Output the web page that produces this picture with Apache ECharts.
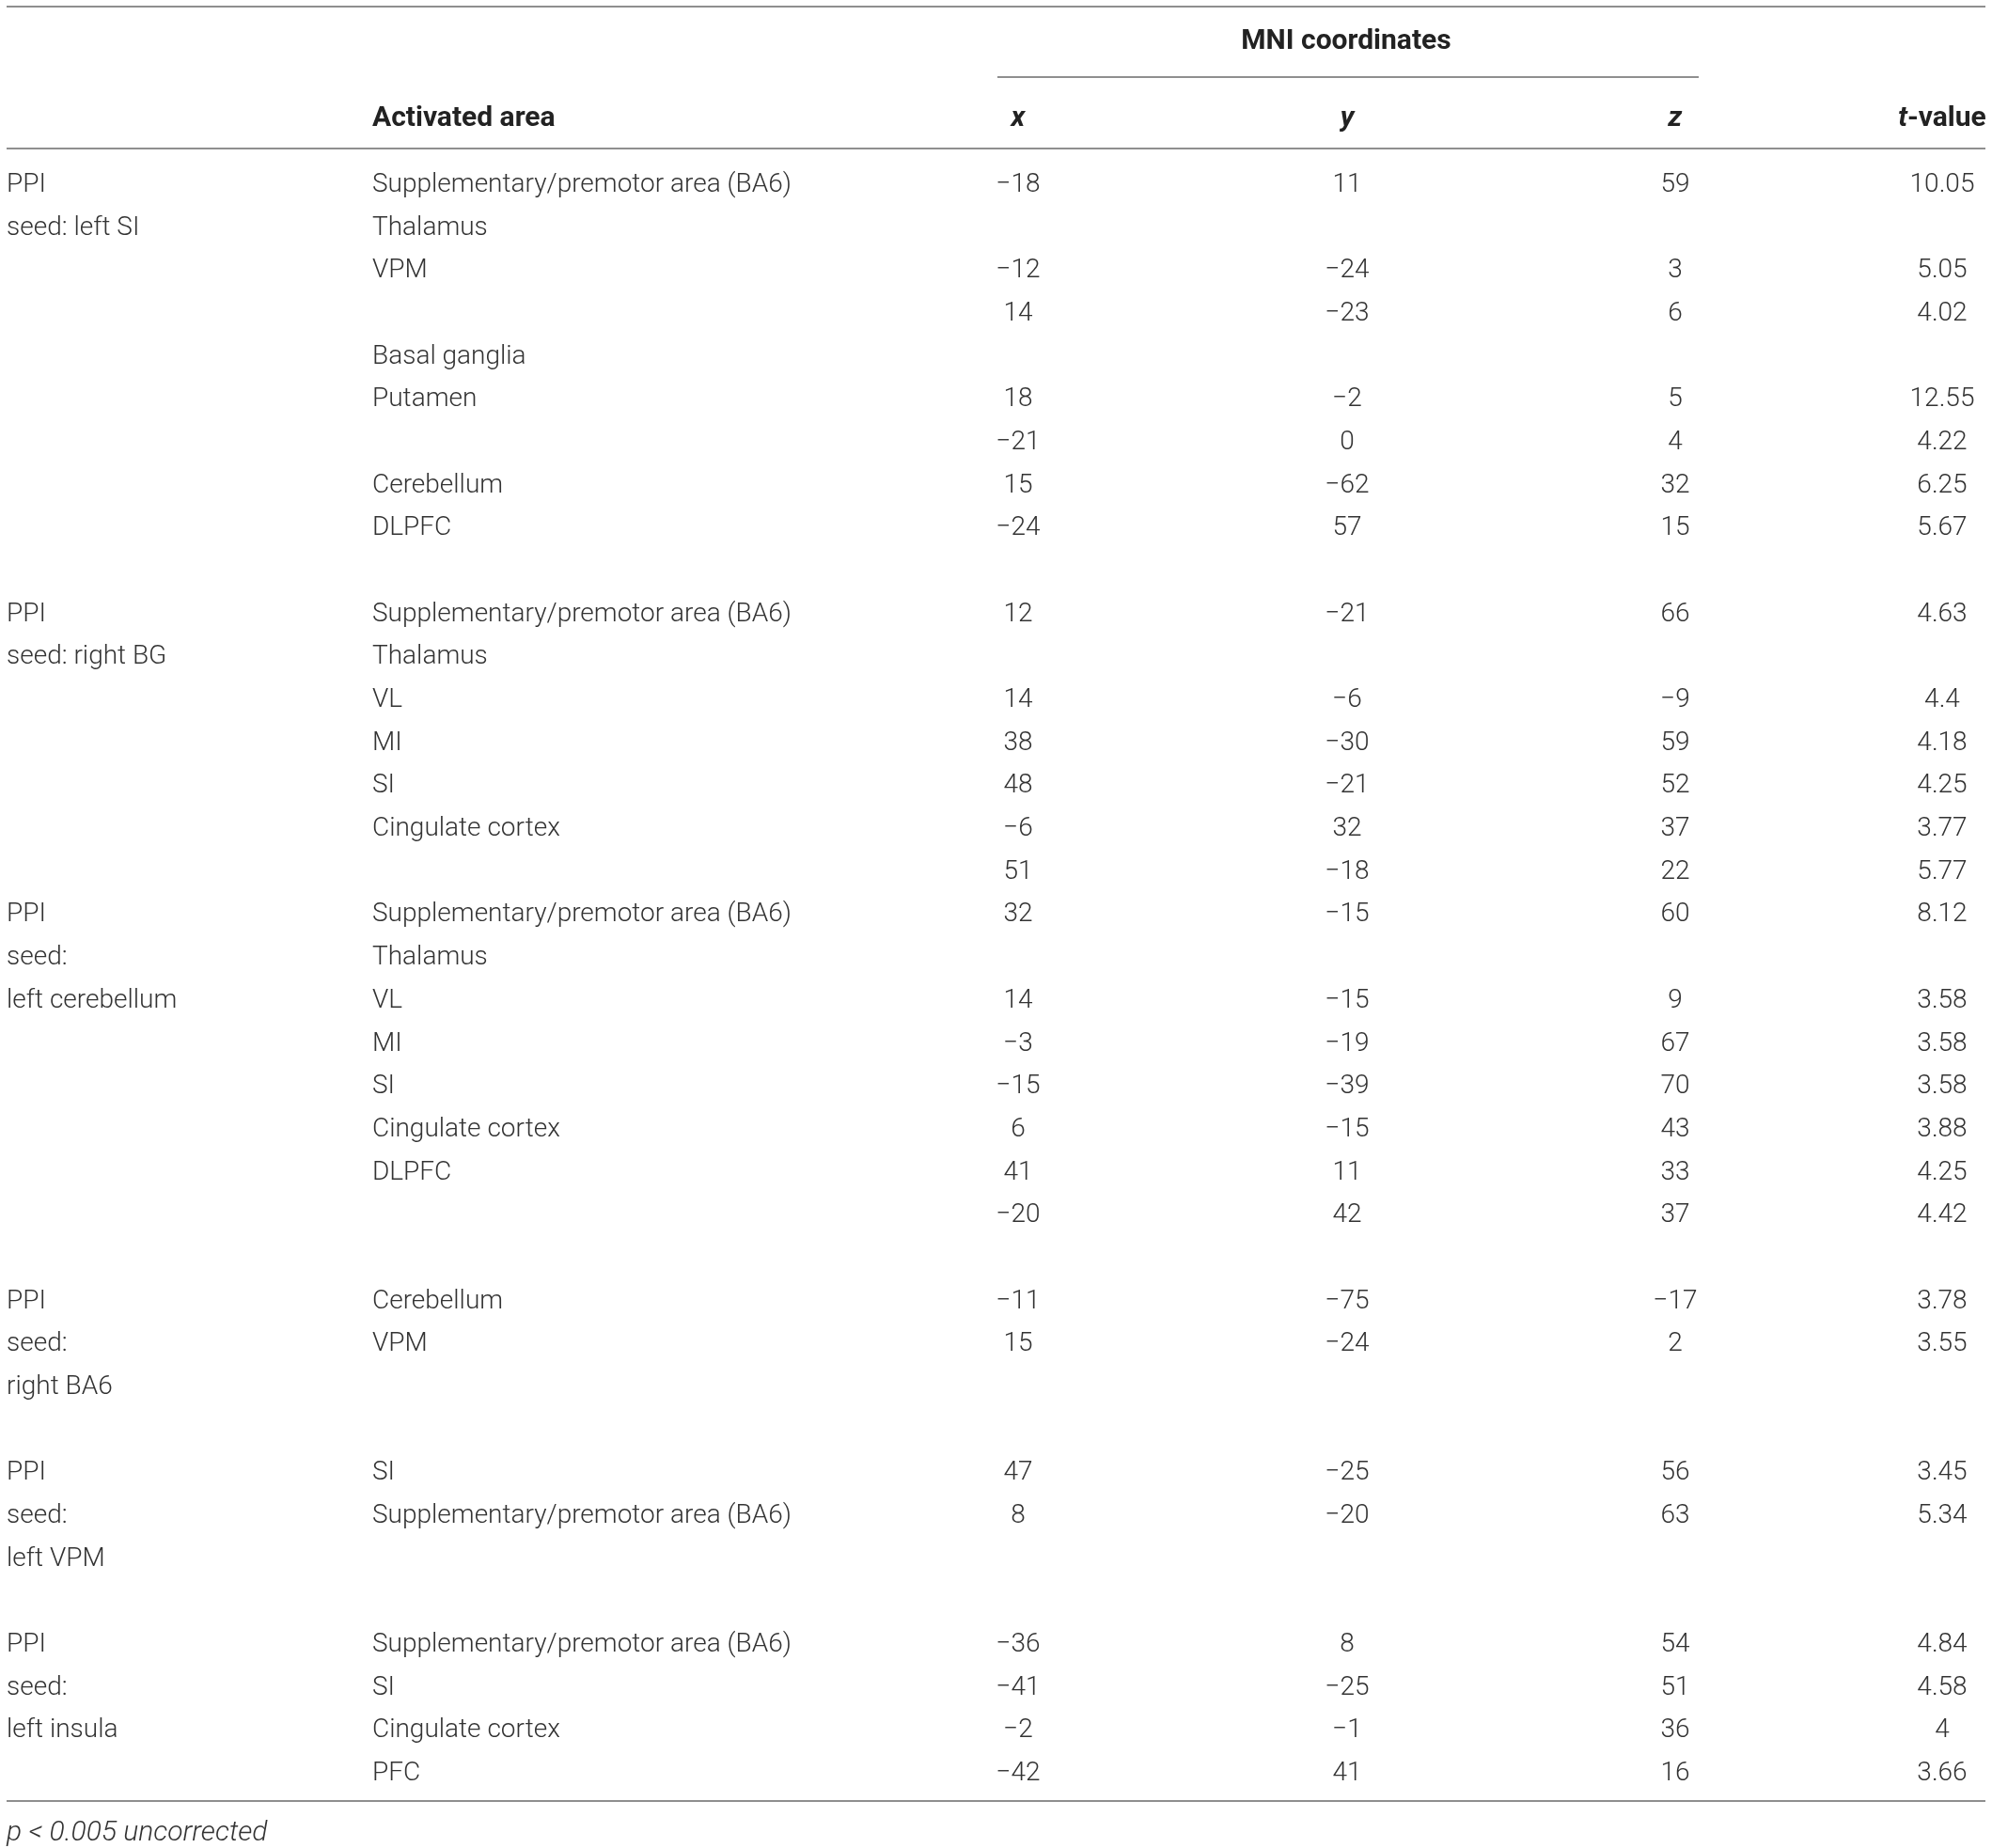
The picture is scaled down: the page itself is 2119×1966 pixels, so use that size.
<!DOCTYPE html>
<html>
<head>
<meta charset="utf-8">
<script src="https://cdn.jsdelivr.net/npm/echarts@6/dist/echarts.min.js"></script>
<style>
  html, body { margin: 0; padding: 0; background: #fff; }
  #main { width: 2119px; height: 1966px; }
</style>
</head>
<body>
<div id="main"></div>
<script>
(function() {

    // table values, one entry per row (null = empty cell)
    var seedLabels = [
        'PPI', 'seed: left SI', null, null, null, null, null, null, null, null,
        'PPI', 'seed: right BG', null, null, null, null, null,
        'PPI', 'seed:', 'left cerebellum', null, null, null, null, null, null,
        'PPI', 'seed:', 'right BA6', null,
        'PPI', 'seed:', 'left VPM', null,
        'PPI', 'seed:', 'left insula', null
    ];
    var areaLabels = [
        'Supplementary/premotor area (BA6)', 'Thalamus', 'VPM', null, 'Basal ganglia', 'Putamen', null, 'Cerebellum', 'DLPFC', null,
        'Supplementary/premotor area (BA6)', 'Thalamus', 'VL', 'MI', 'SI', 'Cingulate cortex', null,
        'Supplementary/premotor area (BA6)', 'Thalamus', 'VL', 'MI', 'SI', 'Cingulate cortex', 'DLPFC', null, null,
        'Cerebellum', 'VPM', null, null,
        'SI', 'Supplementary/premotor area (BA6)', null, null,
        'Supplementary/premotor area (BA6)', 'SI', 'Cingulate cortex', 'PFC'
    ];
    var xValues = [
        -18, null, -12, 14, null, 18, -21, 15, -24, null,
        12, null, 14, 38, 48, -6, 51,
        32, null, 14, -3, -15, 6, 41, -20, null,
        -11, 15, null, null,
        47, 8, null, null,
        -36, -41, -2, -42
    ];
    var yValues = [
        11, null, -24, -23, null, -2, 0, -62, 57, null,
        -21, null, -6, -30, -21, 32, -18,
        -15, null, -15, -19, -39, -15, 11, 42, null,
        -75, -24, null, null,
        -25, -20, null, null,
        8, -25, -1, 41
    ];
    var zValues = [
        59, null, 3, 6, null, 5, 4, 32, 15, null,
        66, null, -9, 59, 52, 37, 22,
        60, null, 9, 67, 70, 43, 33, 37, null,
        -17, 2, null, null,
        56, 63, null, null,
        54, 51, 36, 16
    ];
    var tValues = [
        10.05, null, 5.05, 4.02, null, 12.55, 4.22, 6.25, 5.67, null,
        4.63, null, 4.4, 4.18, 4.25, 3.77, 5.77,
        8.12, null, 3.58, 3.58, 3.58, 3.88, 4.25, 4.42, null,
        3.78, 3.55, null, null,
        3.45, 5.34, null, null,
        4.84, 4.58, 4, 3.66
    ];
    var footnote = 'p < 0.005 uncorrected';

    // layout
    var W = 2119;
    var FONT = 'Roboto, "Liberation Sans", sans-serif';
    var TEXT = '#333';
    var RULE = '#8f8f8f';
    var columns = [
        { values: seedLabels, x: 7, align: 'left' },
        { values: areaLabels, x: 396, align: 'left' },
        { values: xValues, x: 1083, align: 'center' },
        { values: yValues, x: 1433, align: 'center' },
        { values: zValues, x: 1782, align: 'center' },
        { values: tValues, x: 2066, align: 'center' }
    ];

    function fmt(v) {
        if (v === null) return '';
        if (typeof v === 'number') {
            return v < 0 ? '\u2212' + String(-v) : String(v);
        }
        return v;
    }

    var series = columns.map(function(col) {
        var data = [];
        for (var i = 0; i < col.values.length; i++) {
            if (col.values[i] !== null) data.push([col.x, i, fmt(col.values[i])]);
        }
        return {
            type: 'custom',
            coordinateSystem: 'cartesian2d',
            silent: true,
            data: data,
            renderItem: function(params, api) {
                var p = api.coord([api.value(0), api.value(1)]);
                return {
                    type: 'text',
                    x: p[0],
                    y: p[1],
                    style: {
                        text: data[params.dataIndex][2],
                        fill: TEXT,
                        font: '300 28px ' + FONT,
                        align: col.align,
                        verticalAlign: 'middle'
                    }
                };
            }
        };
    });

    function rule(x1, x2, y) {
        return {
            type: 'line',
            shape: { x1: x1, y1: y, x2: x2, y2: y },
            style: { stroke: RULE, lineWidth: 2 },
            silent: true
        };
    }
    function head(text, x, y, align, italic) {
        return {
            type: 'text',
            x: x,
            y: y,
            style: {
                text: text,
                fill: '#222',
                font: (italic ? 'italic ' : '') + 'bold 30px ' + FONT,
                align: align,
                verticalAlign: 'middle'
            },
            silent: true
        };
    }

    var chart = echarts.init(document.getElementById('main'), null, { renderer: 'canvas' });
    chart.setOption({
        backgroundColor: '#fff',
        animation: false,
        grid: { left: 0, right: 0, top: 174, bottom: 56 },
        xAxis: { type: 'value', min: 0, max: W, show: false },
        yAxis: { type: 'value', min: -0.5, max: 37.5, inverse: true, show: false },
        series: series,
        graphic: [
            rule(7, 2112, 7),
            rule(1061, 1807, 82),
            rule(7, 2112, 158),
            rule(7, 2112, 1916),
            head('MNI coordinates', 1432, 44, 'center', false),
            head('Activated area', 396, 126, 'left', false),
            head('x', 1083, 126, 'center', true),
            head('y', 1433, 126, 'center', true),
            head('z', 1782, 126, 'center', true),
            {
                type: 'text',
                x: 2066,
                y: 126,
                silent: true,
                style: {
                    text: '{i|t}{b|-value}',
                    align: 'center',
                    verticalAlign: 'middle',
                    rich: {
                        i: { font: 'italic bold 30px ' + FONT, fill: '#222' },
                        b: { font: 'bold 30px ' + FONT, fill: '#222' }
                    }
                }
            },
            {
                type: 'text',
                x: 7,
                y: 1950,
                silent: true,
                style: {
                    text: footnote,
                    fill: TEXT,
                    font: 'italic 300 30px ' + FONT,
                    align: 'left',
                    verticalAlign: 'middle'
                }
            }
        ]
    });
})();
</script>
</body>
</html>
